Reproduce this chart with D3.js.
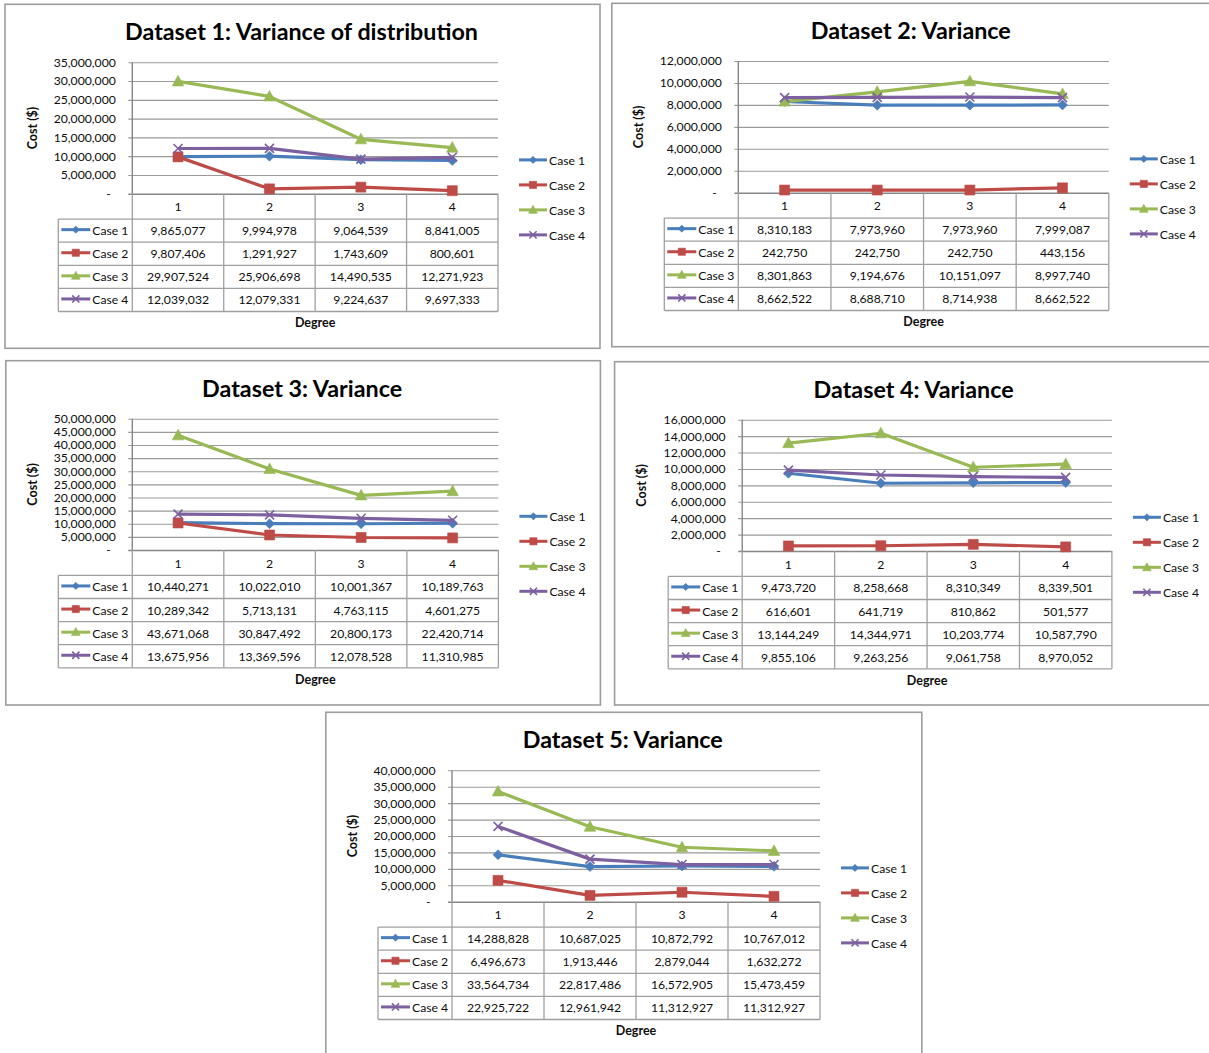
<!DOCTYPE html>
<html>
<head>
<meta charset="utf-8">
<script src="https://cdn.jsdelivr.net/npm/d3@7"></script>
<style>
  html, body { margin: 0; padding: 0; background: #ffffff; }
  svg { display: block; }
  text { font-family: Lato, "Open Sans", "Liberation Sans", sans-serif; fill: #0d0d0d; }
</style>
</head>
<body>
<svg id="chart" width="1209" height="1053"></svg>
<script>
// ---- data -----------------------------------------------------------------
const degrees = ["1", "2", "3", "4"];
const cases = ["Case 1", "Case 2", "Case 3", "Case 4"];

const titles = [
  "Dataset 1: Variance of distribution",
  "Dataset 2: Variance",
  "Dataset 3: Variance",
  "Dataset 4: Variance",
  "Dataset 5: Variance"
];

// one row per case, one value per degree
const dataset1 = [
  [9865077, 9994978, 9064539, 8841005],
  [9807406, 1291927, 1743609, 800601],
  [29907524, 25906698, 14490535, 12271923],
  [12039032, 12079331, 9224637, 9697333]
];
const dataset2 = [
  [8310183, 7973960, 7973960, 7999087],
  [242750, 242750, 242750, 443156],
  [8301863, 9194676, 10151097, 8997740],
  [8662522, 8688710, 8714938, 8662522]
];
const dataset3 = [
  [10440271, 10022010, 10001367, 10189763],
  [10289342, 5713131, 4763115, 4601275],
  [43671068, 30847492, 20800173, 22420714],
  [13675956, 13369596, 12078528, 11310985]
];
const dataset4 = [
  [9473720, 8258668, 8310349, 8339501],
  [616601, 641719, 810862, 501577],
  [13144249, 14344971, 10203774, 10587790],
  [9855106, 9263256, 9061758, 8970052]
];
const dataset5 = [
  [14288828, 10687025, 10872792, 10767012],
  [6496673, 1913446, 2879044, 1632272],
  [33564734, 22817486, 16572905, 15473459],
  [22925722, 12961942, 11312927, 11312927]
];

// value axis: top of scale and gridline step for each dataset
const axisMax = [35000000, 12000000, 50000000, 16000000, 40000000];
const axisStep = [5000000, 2000000, 5000000, 2000000, 5000000];

const datasets = [dataset1, dataset2, dataset3, dataset4, dataset5];

// ---- look -----------------------------------------------------------------
const caseColors = ["#4a7ebb", "#be4b48", "#98b954", "#7d60a0"];
const caseMarkers = ["diamond", "square", "triangle", "cross"];

// frame and plot rectangle of each chart
const layout = [
  { box: [5, 4.3, 595, 344],      plot: [132.3, 498.0, 62.3, 193.7] },
  { box: [611.8, 3.3, 600, 343.4], plot: [738.3, 1108.8, 61.0, 192.7] },
  { box: [5.8, 360.7, 594.6, 344.3], plot: [132.3, 498.4, 418.7, 550.0] },
  { box: [614.6, 361.7, 600, 343.3], plot: [742.2, 1111.9, 419.7, 551.0] },
  { box: [325.8, 712.3, 596, 350],   plot: [452.0, 820.0, 770.3, 901.7] }
];

const HEADER_H = 25.4;
const ROW_H = 23.1;
const TABLE_INDENT = 74; // width of the key column left of the plot
const gridColor = "#9a9a9a";
const tableColor = "#a0a0a0";

const fmt = d3.format(",");

function markerPath(kind, r) {
  switch (kind) {
    case "diamond":
      return `M0,${-r}L${r},0L0,${r}L${-r},0Z`;
    case "square":
      return `M${-r},${-r}H${r}V${r}H${-r}Z`;
    case "triangle": {
      const h = r * 1.1;
      return `M0,${-h}L${r * 1.05},${h * 0.75}L${-r * 1.05},${h * 0.75}Z`;
    }
    case "cross":
      return `M${-r},${-r}L${r},${r}M${r},${-r}L${-r},${r}`;
  }
}

function drawMarker(g, kind, color, x, y, r) {
  const p = g.append("path")
    .attr("d", markerPath(kind, r))
    .attr("transform", `translate(${x},${y})`);
  if (kind === "cross") {
    p.attr("fill", "none").attr("stroke", color).attr("stroke-width", 1.6);
  } else {
    p.attr("fill", color).attr("stroke", color).attr("stroke-width", 0.6);
  }
}

const svg = d3.select("#chart");

datasets.forEach((data, i) => {
  const [bx, by, bw, bh] = layout[i].box;
  const [left, right, top, bottom] = layout[i].plot;
  const g = svg.append("g");

  // outer frame
  g.append("rect")
    .attr("x", bx).attr("y", by).attr("width", bw).attr("height", bh)
    .attr("fill", "#fff").attr("stroke", "#9d9d9d").attr("stroke-width", 1.6);

  // title
  g.append("text")
    .attr("x", bx + bw / 2 - 1).attr("y", by + 27)
    .attr("text-anchor", "middle").attr("dominant-baseline", "central")
    .attr("font-size", 23.3).attr("font-weight", 700)
    .style("fill", "#000")
    .text(titles[i]);

  const x = d3.scaleBand().domain(degrees).range([left, right]);
  const y = d3.scaleLinear().domain([0, axisMax[i]]).range([bottom, top]);
  const ticks = d3.range(0, axisMax[i] + 1, axisStep[i]);

  // gridlines + tick marks
  const grid = g.append("g")
    .attr("transform", `translate(${left},0)`)
    .call(d3.axisLeft(y).tickValues(ticks).tickSize(-(right - left)).tickFormat(""));
  grid.select(".domain").remove();
  grid.selectAll(".tick line")
    .attr("x1", -4)
    .attr("stroke", d => d === 0 ? "#868686" : gridColor)
    .attr("stroke-width", d => d === 0 ? 1.6 : 1.1);

  // tick labels
  const labels = g.append("g")
    .attr("transform", `translate(${left - 16.5},0)`)
    .call(d3.axisLeft(y).tickValues(ticks).tickSize(0).tickPadding(0)
      .tickFormat(d => d === 0 ? "-" : fmt(d)));
  labels.select(".domain").remove();
  labels.selectAll(".tick text")
    .attr("font-family", "Lato, 'Open Sans', sans-serif")
    .attr("font-size", 12.2).attr("fill", "#0d0d0d")
    .attr("dx", d => d === 0 ? -5 : 0);

  // value axis line
  g.append("line")
    .attr("x1", left).attr("x2", left).attr("y1", top).attr("y2", bottom)
    .attr("stroke", "#868686").attr("stroke-width", 1.4);

  // axis title
  g.append("text")
    .attr("transform", `translate(${bx + 27},${(top + bottom) / 2}) rotate(-90)`)
    .attr("text-anchor", "middle").attr("dominant-baseline", "central")
    .attr("font-size", 12.5).attr("font-weight", 700)
    .text("Cost ($)");

  // data table
  const tableLeft = left - TABLE_INDENT;
  const headBottom = bottom + HEADER_H;
  const tableBottom = headBottom + ROW_H * cases.length;
  const tg = g.append("g").attr("stroke", tableColor).attr("stroke-width", 1.3);
  const colEdges = degrees.map(d => x(d)).concat([right]);
  colEdges.forEach(cx => {
    tg.append("line").attr("x1", cx).attr("x2", cx).attr("y1", bottom).attr("y2", tableBottom);
  });
  tg.append("line").attr("x1", tableLeft).attr("x2", tableLeft).attr("y1", headBottom).attr("y2", tableBottom);
  d3.range(cases.length + 1).forEach(k => {
    const ry = headBottom + k * ROW_H;
    tg.append("line").attr("x1", tableLeft).attr("x2", right).attr("y1", ry).attr("y2", ry);
  });

  // category labels in header row
  g.append("g").selectAll("text").data(degrees).join("text")
    .attr("x", d => x(d) + x.bandwidth() / 2)
    .attr("y", bottom + HEADER_H / 2 + 0.5)
    .attr("text-anchor", "middle").attr("dominant-baseline", "central")
    .attr("font-size", 12.2)
    .text(d => d);

  // rows: key + values
  cases.forEach((c, s) => {
    const cy = headBottom + s * ROW_H + ROW_H / 2;
    g.append("line")
      .attr("x1", tableLeft + 3).attr("x2", tableLeft + 32)
      .attr("y1", cy - 1).attr("y2", cy - 1)
      .attr("stroke", caseColors[s]).attr("stroke-width", 3);
    drawMarker(g, caseMarkers[s], caseColors[s], tableLeft + 17.5, cy - 1, caseMarkers[s] === "triangle" ? 4.2 : 3.6);
    g.append("text")
      .attr("x", tableLeft + 34).attr("y", cy)
      .attr("dominant-baseline", "central")
      .attr("font-size", 12.2)
      .text(c);
    g.append("g").selectAll("text").data(data[s]).join("text")
      .attr("x", (d, k) => x(degrees[k]) + x.bandwidth() / 2)
      .attr("y", cy)
      .attr("text-anchor", "middle").attr("dominant-baseline", "central")
      .attr("font-size", 12.2)
      .text(d => fmt(d));
  });

  // x axis title
  g.append("text")
    .attr("x", (left + right) / 2).attr("y", by + 318.5)
    .attr("text-anchor", "middle").attr("dominant-baseline", "central")
    .attr("font-size", 12.5).attr("font-weight", 700)
    .text("Degree");

  // series lines and markers
  const line = d3.line()
    .x((d, k) => x(degrees[k]) + x.bandwidth() / 2)
    .y(d => y(d));
  data.forEach((vals, s) => {
    g.append("path")
      .attr("d", line(vals))
      .attr("fill", "none")
      .attr("stroke", caseColors[s]).attr("stroke-width", 3.2)
      .attr("stroke-linejoin", "round");
    vals.forEach((v, k) => {
      const r = caseMarkers[s] === "triangle" ? 5.5 : caseMarkers[s] === "cross" ? 4.5 : 5;
      drawMarker(g, caseMarkers[s], caseColors[s], x(degrees[k]) + x.bandwidth() / 2, y(v), r);
    });
  });

  // legend
  const lx = right + 21;
  const ly = by + 155.6;
  cases.forEach((c, s) => {
    const yy = ly + s * 25;
    g.append("line")
      .attr("x1", lx).attr("x2", lx + 28).attr("y1", yy).attr("y2", yy)
      .attr("stroke", caseColors[s]).attr("stroke-width", 3);
    drawMarker(g, caseMarkers[s], caseColors[s], lx + 14, yy, caseMarkers[s] === "triangle" ? 4.2 : 3.6);
    g.append("text")
      .attr("x", lx + 30).attr("y", yy + 0.5)
      .attr("dominant-baseline", "central")
      .attr("font-size", 12.2)
      .text(c);
  });
});
</script>
</body>
</html>
